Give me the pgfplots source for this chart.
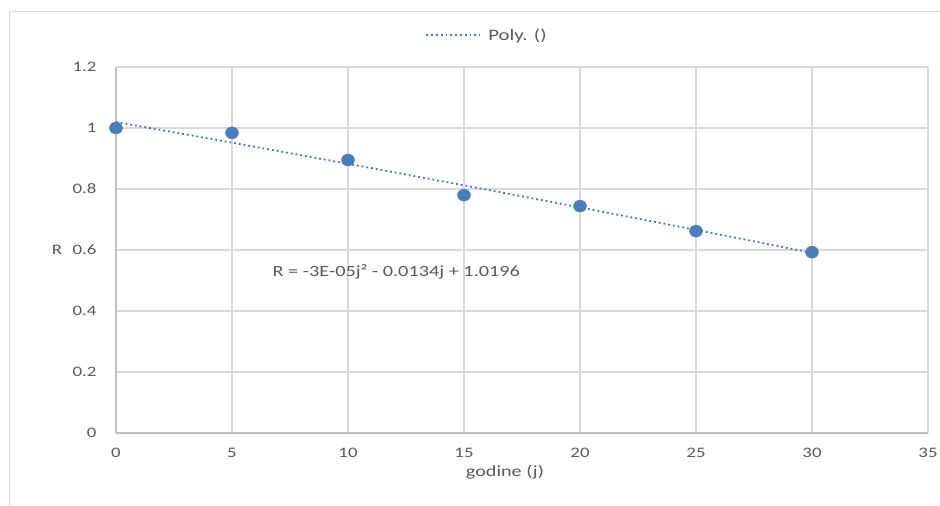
\documentclass[border=0pt]{standalone}
\usepackage{pgfplots}
\pgfplotsset{compat=1.18}
\usepackage{fontspec}
\setmainfont{Carlito}[FakeStretch=1.3]
\definecolor{txt}{HTML}{595959}
\definecolor{grd}{HTML}{D9D9D9}
\definecolor{axl}{HTML}{BFBFBF}
\definecolor{pt}{HTML}{4A7EBB}
\definecolor{trend}{HTML}{4472C4}
\begin{document}
\begin{tikzpicture}[x=1pt,y=1pt]
\useasboundingbox (0,0) rectangle (940,506);
% chart frame (top and left edges)
\draw[color=grd, line width=1.5pt] (9.5,0) -- (9.5,494.5) -- (940,494.5);
\begin{axis}[
  at={(116pt,73pt)}, anchor=south west,
  width=812pt, height=366pt, scale only axis,
  xmin=0, xmax=35, ymin=0, ymax=1.2,
  xtick={0,5,10,15,20,25,30,35},
  ytick={0,0.2,0.4,0.6,0.8,1,1.2},
  yticklabels={0,0.2,0.4,0.6,0.8,1,1.2},
  grid=major,
  major grid style={grd, line width=1.3pt},
  axis lines*=left,
  axis line style={-, axl, line width=1.3pt},
  major tick length=0pt,
  /pgf/number format/assume math mode=true,
  ticklabel style={font=\fontsize{14.5}{16}\selectfont, text=txt},
  yticklabel style={anchor=east, xshift=-16pt},
  xticklabel style={anchor=north, yshift=-12pt},
  xlabel={godine (j)},
  xlabel style={font=\fontsize{15.5}{17}\selectfont, text=txt, at={(0.479,0)}, anchor=north, yshift=-29pt},
  ylabel={R},
  ylabel style={font=\fontsize{14.5}{16}\selectfont, text=txt, rotate=-90, at={(-0.0727,0.5)}, anchor=center},
  legend style={at={(0.457,1.087)}, anchor=center, draw=none, fill=none,
    font=\fontsize{16}{18}\selectfont, text=txt},
  legend image code/.code={%
    \draw[trend, line width=1.8pt, dash pattern=on 1.8pt off 3pt] (0pt,0pt) -- (53pt,0pt);
    \path (59pt,0pt);},
  clip=false,
]
% measured values
\addplot[only marks, mark=*, mark size=6pt, color=pt, mark options={xscale=1.08}, forget plot]
  coordinates {(0,1.0) (5,0.984) (10,0.895) (15,0.780) (20,0.744) (25,0.662) (30,0.593)};
% second-order polynomial trend
\addplot[trend, line width=1.8pt, dash pattern=on 1.8pt off 3pt, smooth]
  coordinates {(0,1.0196) (5,0.95185) (10,0.8826) (15,0.81185) (20,0.7396) (25,0.66585) (30,0.5906)};
\addlegendentry{Poly. ()}
\node[anchor=west, font=\fontsize{15.6}{17}\selectfont, text=txt] at (axis cs:6.6,0.528)
  {R = -3E-05j² - 0.0134j + 1.0196};
\end{axis}
\end{tikzpicture}
\end{document}
